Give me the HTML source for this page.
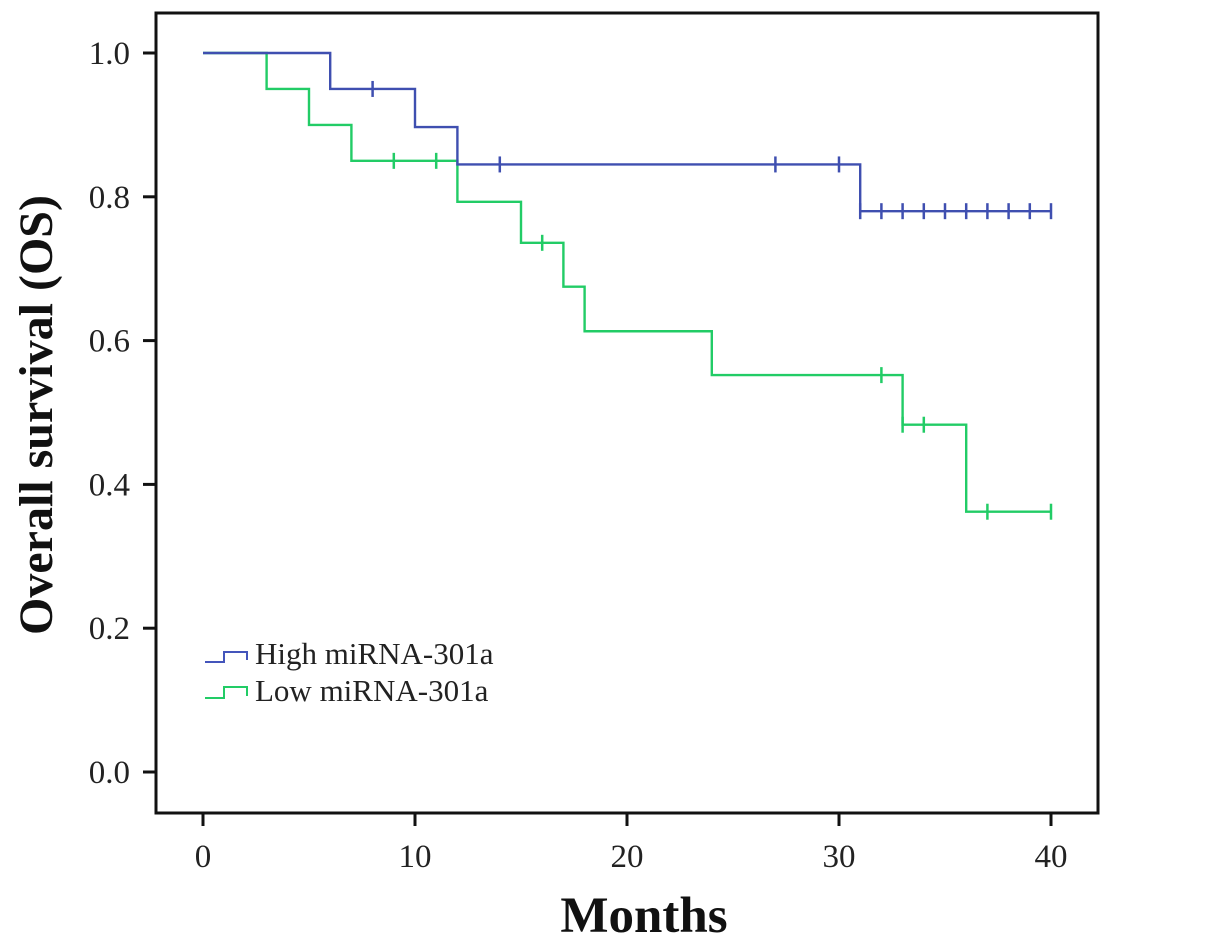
<!DOCTYPE html>
<html><head><meta charset="utf-8"><style>
body{margin:0;background:#fff;}
text{font-family:"Liberation Serif",serif;}
</style></head><body>
<svg id="chart" width="1205" height="946" xmlns="http://www.w3.org/2000/svg">
<rect x="156" y="13" width="942" height="800" fill="none" stroke="#111" stroke-width="3"/>
<g id="axes"></g>
<g id="series"></g>
<text transform="translate(52,415) rotate(-90)" text-anchor="middle" font-size="48" font-weight="bold" fill="#111">Overall survival (OS)</text>
<text x="644" y="932" text-anchor="middle" font-size="51" font-weight="bold" fill="#111">Months</text>
<g>
<path d="M205,662 H224 V652 H247 V660" fill="none" stroke="#4455bb" stroke-width="2"/>
<text x="255" y="664" font-size="31" fill="#222">High miRNA-301a</text>
<path d="M205,698 H224 V687 H247 V696" fill="none" stroke="#22cc66" stroke-width="2"/>
<text x="255" y="701" font-size="31" fill="#222">Low miRNA-301a</text>
</g>
</svg>
<script>
const xTicks=[0,10,20,30,40];
const yTicks=[0.0,0.2,0.4,0.6,0.8,1.0];
const yTickLabels=["0.0","0.2","0.4","0.6","0.8","1.0"];
const highTimes=[0,6,10,12,31,40];
const highSurv=[1.0,0.95,0.897,0.845,0.78,0.78];
const highCensorT=[8,14,27,30,31,32,33,34,35,36,37,38,39,40];
const lowTimes=[0,3,5,7,12,15,17,18,24,33,36,40];
const lowSurv=[1.0,0.95,0.90,0.85,0.793,0.736,0.675,0.613,0.552,0.483,0.362,0.362];
const lowCensorT=[9,11,16,32,33,34,37,40];
const NS="http://www.w3.org/2000/svg";
const X=t=>203+t*21.2;
const Y=v=>772-v*719;
function mk(tag,attrs,parent){const e=document.createElementNS(NS,tag);for(const k in attrs)e.setAttribute(k,attrs[k]);parent.appendChild(e);return e;}
const ax=document.getElementById('axes');
xTicks.forEach(t=>{
 const l=mk('line',{x1:X(t),x2:X(t),y1:813,y2:826,stroke:'#111','stroke-width':3},ax);
 
 
 const tx=mk('text',{x:X(t),y:867,'text-anchor':'middle','font-size':33,fill:'#222'},ax);
 tx.textContent=t;
 
 
});
yTicks.forEach((v,i)=>{
 const l=mk('line',{x1:143,x2:156,y1:Y(v),y2:Y(v),stroke:'#111','stroke-width':3},ax);
 
 
 const tx=mk('text',{x:130,y:Y(v)+11,'text-anchor':'end','font-size':33,fill:'#222'},ax);
 tx.textContent=yTickLabels[i];
 
 
});
const sg=document.getElementById('series');
function stepVal(times,surv,t){let v=surv[0];for(let i=0;i<times.length;i++){if(times[i]<=t)v=surv[i];}return v;}
function draw(times,surv,cens,color,name){
 let d=`M${X(times[0])},${Y(surv[0])}`;
 for(let i=1;i<times.length;i++){d+=` H${X(times[i])} V${Y(surv[i])}`;}
 const p=mk('path',{d:d,fill:'none',stroke:color,'stroke-width':2.4},sg);
 
 
 cens.forEach(t=>{
  let v=stepVal(times,surv,t);
  const c=mk('line',{x1:X(t),x2:X(t),y1:Y(v)-8,y2:Y(v)+8,stroke:color,'stroke-width':2.5},sg);
  
  
 });
}
draw(lowTimes,lowSurv,lowCensorT,'#22cc66','low-mirna');
draw(highTimes,highSurv,highCensorT,'#3f4fb0','high-mirna');
</script>
</body></html>
